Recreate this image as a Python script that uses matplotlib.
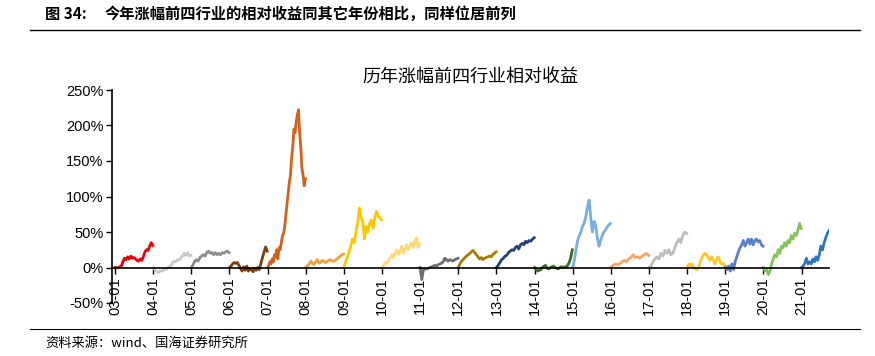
import numpy as np
import matplotlib
matplotlib.use("Agg")
import matplotlib.pyplot as plt
from matplotlib.lines import Line2D
from matplotlib.ticker import FuncFormatter

plt.rcParams['font.family'] = ['Liberation Sans', 'Noto Sans CJK SC', 'DejaVu Sans']

# relative return of top-4 industries, one list per year (percent)
r2003 = [0, 0, 0, 1, 2, 8, 13, 11, 15, 12, 16, 13, 14, 12, 10, 9, 12, 10, 15, 22, 25, 24, 30, 35, 31]
r2004 = [0, -3, -6, -7, -5, -5, -4, -2, -2, 1, 0, 6, 9, 8, 11, 10, 13, 16, 20, 17, 21, 16, 17]
r2005 = [0, 4, 9, 11, 9, 14, 16, 18, 16, 21, 23, 20, 21, 18, 21, 18, 20, 18, 21, 20, 22, 23, 21]
r2006 = [0, 2, 5, 7, 6, 7, 3, -1, -5, 1, -4, 2, -5, -2, -3, -6, -1, -4, 0, -3, 6, 14, 22, 29, 23]
r2007 = [0, 3, 8, 5, 12, 8, 18, 15, 25, 12, 28, 25, 35, 45, 48, 58, 75, 90, 105, 120, 130,
         155, 170, 195, 190, 205, 215, 222, 190, 170, 140, 130, 115, 125]
r2008 = [0, 2, 5, 9, 6, 4, 8, 11, 6, 7, 10, 9, 7, 8, 10, 11, 9, 9, 10, 12, 14, 16, 18, 19]
r2009 = [0, 8, 14, 22, 30, 40, 35, 50, 62, 84, 70, 65, 40, 58, 50, 62, 67, 55, 70, 79, 72, 70, 67]
r2010 = [0, 3, 7, 6, 11, 14, 18, 14, 20, 25, 18, 24, 30, 20, 26, 32, 25, 30, 35, 28, 38, 42, 28, 33]
r2011 = [0, -17, -3, -2, -2, -1, 0, 1, 2, 3, 2, 4, 5, 6, 8, 13, 11, 9, 11, 10, 9, 11, 12, 13]
r2012 = [0, 5, 9, 11, 14, 16, 18, 20, 22, 24, 21, 18, 15, 12, 14, 11, 13, 14, 15, 16, 15, 18, 20, 22]
r2013 = [0, 3, 7, 11, 13, 16, 17, 21, 23, 25, 24, 28, 30, 26, 32, 34, 32, 37, 35, 38, 37, 40, 42]
r2014 = [0, -3, -5, -4, -3, 0, 2, 3, -1, -2, 0, 1, 2, 0, -1, -2, 0, 1, 0, 1, 0, 3, 7, 14, 25]
r2015 = [0, 10, 25, 38, 45, 50, 58, 63, 72, 85, 95, 70, 50, 65, 58, 42, 30, 38, 45, 50, 53, 57, 60, 62]
r2016 = [0, 3, 5, 4, 5, 8, 10, 8, 12, 14, 18, 14, 15, 13, 16, 18, 20, 17]
r2017 = [0, 2, 8, 12, 15, 12, 20, 16, 24, 20, 25, 18, 20, 28, 35, 40, 35, 45, 50, 48]
r2018 = [0, 5, 2, 5, 0, -2, -3, 0, 8, 13, 18, 20, 18, 13, 10, 15, 10, 5, 12, 15, 8, 5, 6, 2]
r2019 = [0, -3, 2, -5, 5, -3, 8, 15, 22, 28, 32, 38, 30, 35, 40, 33, 40, 32, 38, 40, 36, 38, 32, 30]
r2020 = [0, -5, -3, -10, -5, 5, 12, 18, 15, 25, 20, 30, 28, 35, 30, 38, 35, 45, 40, 48, 45, 52, 62, 55]
r2021 = [0, 2, 6, 13, 5, 8, 5, 12, 8, 15, 10, 18, 30, 25, 35, 42, 48, 52]

years = list(range(2003, 2022))
series = [r2003, r2004, r2005, r2006, r2007, r2008, r2009, r2010, r2011, r2012,
          r2013, r2014, r2015, r2016, r2017, r2018, r2019, r2020, r2021]
colors = ['#E3000F', '#C9C9C9', '#8C8C8C', '#7F3F0A', '#D0621C', '#F0A040', '#FFC700',
          '#FFD878', '#6F6F6F', '#A57C00', '#23427A', '#3E6B28', '#78AEE0', '#F4A46A',
          '#BDBDBD', '#FFC72C', '#5B7FC8', '#86C35E', '#2E74BE']
spans = [0.99] * 18 + [0.72]   # part of the year covered by each series
tick_labels = ['%02d-01' % (y % 100) for y in years]

fig = plt.figure(figsize=(8.75, 3.56), dpi=100)
ax = fig.add_axes([112 / 875, 1 - 303 / 356, (829 - 112) / 875, (303 - 90) / 356])

for y, vals, c, sp in zip(years, series, colors, spans):
    x = y + np.linspace(0, sp, len(vals))
    ax.plot(x, vals, color=c, lw=2.0, solid_joinstyle='round')

ax.set_xlim(2003 - 0.08, 2021.72)
ax.set_ylim(-50, 250)
ax.set_yticks(np.arange(-50, 251, 50))
ax.yaxis.set_major_formatter(FuncFormatter(lambda v, p: '%d%%' % v))
ax.set_xticks(years)
ax.set_xticklabels(tick_labels)

ax.spines['top'].set_visible(False)
ax.spines['right'].set_visible(False)
ax.spines['bottom'].set_position(('data', 0))
ax.spines['bottom'].set_linewidth(1.2)
ax.spines['left'].set_linewidth(1.2)
ax.tick_params(axis='y', direction='out', length=4, width=1.0, labelsize=10.5, pad=2)
ax.tick_params(axis='x', direction='out', length=4, width=1.0, labelsize=10.5, pad=3,
               labelrotation=90)
for lab in ax.get_xticklabels():
    lab.set_va('top')
    lab.set_ha('center')
ax.set_facecolor('none')

ax.set_title('历年涨幅前四行业相对收益', family=['Noto Sans CJK SC'], fontsize=13, pad=6)

# header and footer
fig.text(45 / 875, 1 - 14 / 356, '图 34:', family=['Noto Sans CJK SC', 'Liberation Sans'],
         fontsize=11, weight='bold', va='center')
fig.text(105 / 875, 1 - 14 / 356, '今年涨幅前四行业的相对收益同其它年份相比，同样位居前列',
         family=['Noto Sans CJK SC'], fontsize=11, weight='bold', va='center')
fig.add_artist(Line2D([30 / 875, 860 / 875], [1 - 30 / 356, 1 - 30 / 356], color='black', lw=1.0))
fig.add_artist(Line2D([30 / 875, 860 / 875], [1 - 329 / 356, 1 - 329 / 356], color='black', lw=0.8))
fig.text(45 / 875, 1 - 343 / 356, '资料来源：wind、国海证券研究所',
         family=['Noto Sans CJK SC'], fontsize=9.5, va='center')

fig.savefig('out.png', dpi=100)
